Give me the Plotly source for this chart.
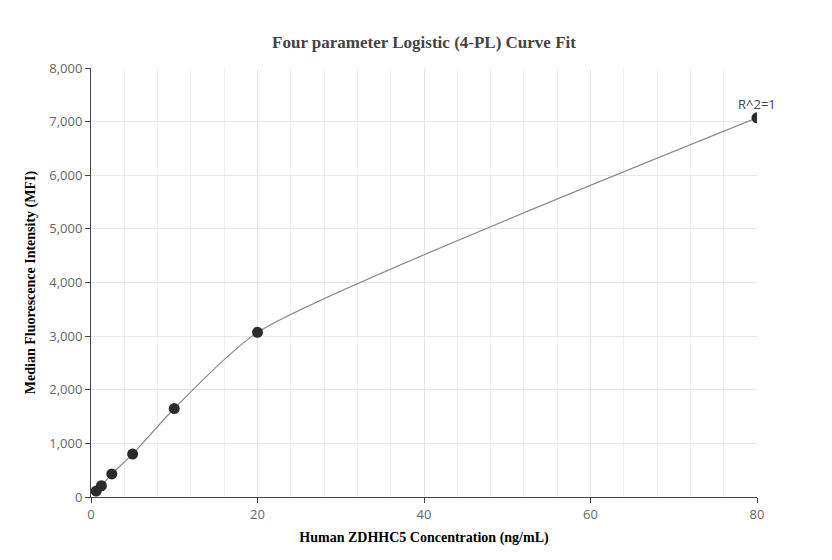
import plotly.graph_objects as go

conc = [0.625, 1.25, 2.5, 5, 10, 20, 80]
mfi = [110, 210, 430, 800, 1650, 3070, 7070]

fig = go.Figure()
fig.add_trace(go.Scatter(x=conc, y=mfi, mode="lines", line=dict(color="#888888", width=1.2, shape="spline", smoothing=0.6), hoverinfo="skip", showlegend=False))
fig.add_trace(go.Scatter(x=conc, y=mfi, mode="markers", marker=dict(color="#2b2b2b", size=11), showlegend=False))
fig.add_annotation(x=80, y=7070, text="R^2=1", showarrow=False, yshift=14, font=dict(family="Open Sans", size=13, color="#444"))

fig.update_layout(
    width=832, height=560, plot_bgcolor="white", paper_bgcolor="white",
    margin=dict(l=83, r=83, t=60, b=71, autoexpand=False),
    title=dict(text="<b>Four parameter Logistic (4-PL) Curve Fit</b>", x=0.5, y=0.94, xanchor="center", yanchor="middle",
               font=dict(family="Liberation Serif", size=17, color="#444")),
    xaxis=dict(range=[0, 80], tickvals=[0, 20, 40, 60, 80], showgrid=True, gridcolor="#e6e6ef", automargin=False,
               minor=dict(dtick=4, showgrid=True, gridcolor="#f0f0f5"), showline=True, linecolor="#444", zeroline=False,
               ticks="outside", ticklen=5, tickcolor="#444",
               tickfont=dict(family="Open Sans", size=13, color="#666"),
               title=dict(text="<b>Human ZDHHC5 Concentration (ng/mL)</b>", standoff=10, font=dict(family="Liberation Serif", size=14, color="black"))),
    yaxis=dict(range=[0, 8000], dtick=1000, tickformat=",", showgrid=True, gridcolor="#e6e6ef", showline=True, linecolor="#444",
               zeroline=False, ticks="outside", ticklen=5, tickcolor="#444", automargin=False,
               tickfont=dict(family="Open Sans", size=13, color="#666"),
               title=dict(text="<b>Median Fluorescence Intensity (MFI)</b>", standoff=10, font=dict(family="Liberation Serif", size=14, color="black"))),
)
fig.write_html("out.html")
